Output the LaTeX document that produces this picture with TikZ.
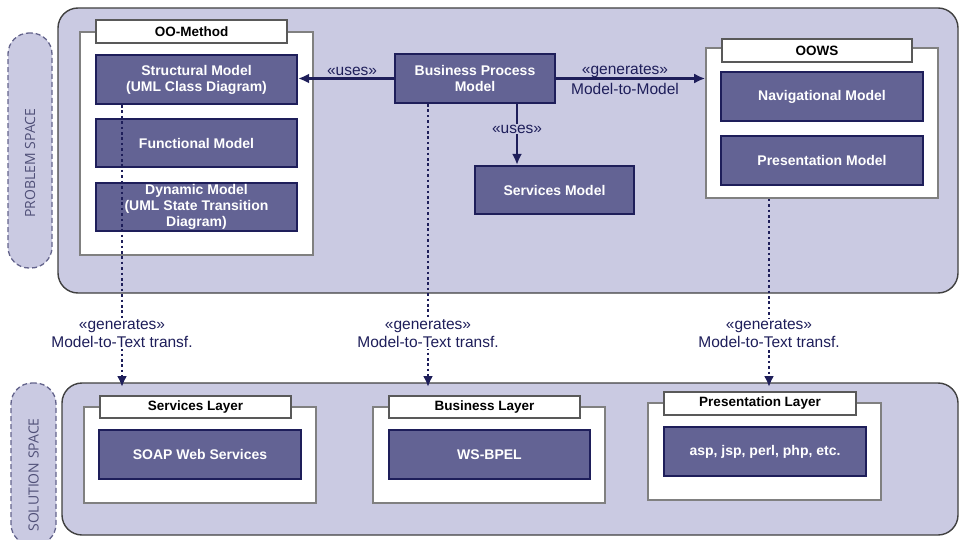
\documentclass[tikz,border=0pt]{standalone}
\usepackage{fontspec}
\setmainfont{Liberation Sans}
\newfontfamily\pillfont{Open Sans}
\usetikzlibrary{arrows.meta,calc}
\definecolor{lav}{RGB}{202,202,226}
\definecolor{boxf}{RGB}{99,99,148}
\definecolor{navy}{RGB}{30,30,90}
\definecolor{pilltxt}{RGB}{80,80,120}
\definecolor{pilldr}{RGB}{100,100,140}
\begin{document}
\begin{tikzpicture}[x=1pt,y=-1pt,
  space/.style={draw=black!75,fill=lav,line width=1.4pt,rounded corners=20pt,inner sep=0,minimum width=#1},
  pill/.style={draw=pilldr,fill=lav,dash pattern=on 5pt off 3pt,line width=1.3pt,rounded corners=21pt,inner sep=0},
  pilllbl/.style={rotate=90,text=pilltxt,font=\pillfont\fontsize{14}{16}\selectfont},
  wbox/.style={draw=black!50,fill=white,line width=1.6pt,inner sep=0},
  tab/.style={draw=black!65,fill=white,line width=1.4pt,inner sep=0,font=\bfseries\fontsize{13.5}{15}\selectfont},
  model/.style={draw=navy,fill=boxf,line width=2.2pt,inner sep=0,text=white,align=center,
     font=\bfseries\fontsize{14}{16}\selectfont},
  lbl/.style={text=navy,align=center,inner sep=1pt,font=\fontsize{15.5}{18}\selectfont},
  arr/.style={draw=navy,line width=2.6pt,-{Latex[length=11pt,width=10pt]}},
  dotarr/.style={draw=navy,line width=2.6pt,dash pattern=on 2.6pt off 2.8pt,-{Latex[length=11pt,width=10pt]}}
]
\useasboundingbox (0,0) rectangle (960,540);
% problem space
\node[space=900pt,minimum height=285pt] (ps) at (508,150.5) {};
\node[pill,minimum width=44pt,minimum height=235pt] (ppill) at (30,150.5) {};
\node[pilllbl] (pst) at (30,163) {PROBLEM SPACE};
% solution space
\node[space=896pt,minimum height=152pt] (sol) at (510,459) {};
\node[pill,minimum width=45pt,minimum height=162pt] (spill) at (33.5,464) {};
\node[pilllbl] (sst) at (33.5,475) {SOLUTION SPACE};

% OO-Method
\node[wbox,minimum width=233pt,minimum height=223pt] (oo) at (196.5,143.5) {};
\node[tab,minimum width=191pt,minimum height=23pt] (ootab) at (191.5,31.5) {OO-Method};
\node[model,minimum width=201pt,minimum height=49pt] (struct) at (196.5,79.5) {Structural Model\\(UML Class Diagram)};
\node[model,minimum width=201pt,minimum height=48pt] (func) at (196.5,143) {Functional Model};
\node[model,minimum width=201pt,minimum height=48pt] (dyn) at (196.5,207) {Dynamic Model\\(UML State Transition\\Diagram)};

% BPM
\node[model,minimum width=160pt,minimum height=49pt] (bpm) at (475,78.5) {Business Process\\Model};
\node[model,minimum width=159pt,minimum height=48pt] (svcm) at (554.5,190) {Services Model};

% OOWS
\node[wbox,minimum width=232pt,minimum height=150pt] (oows) at (822,123) {};
\node[tab,minimum width=190pt,minimum height=23pt] (oowstab) at (817,50.5) {OOWS};
\node[model,minimum width=202pt,minimum height=49pt] (nav) at (822,96.5) {Navigational Model};
\node[model,minimum width=202pt,minimum height=49pt] (pres) at (822,160.5) {Presentation Model};

% layers
\node[wbox,minimum width=232pt,minimum height=96pt] (slbox) at (200,455) {};
\node[tab,minimum width=191pt,minimum height=22pt] (sltab) at (195.5,407) {Services Layer};
\node[model,minimum width=202pt,minimum height=49pt] (soap) at (200,454.5) {SOAP Web Services};

\node[wbox,minimum width=232pt,minimum height=96pt] (blbox) at (489,455) {};
\node[tab,minimum width=191pt,minimum height=22pt] (bltab) at (484.5,407) {Business Layer};
\node[model,minimum width=201pt,minimum height=49pt] (bpel) at (489.5,454.5) {WS-BPEL};

\node[wbox,minimum width=233pt,minimum height=97pt] (plbox) at (764.5,451.5) {};
\node[tab,minimum width=192pt,minimum height=23pt] (pltab) at (760,403.5) {Presentation Layer};
\node[model,minimum width=202pt,minimum height=49pt] (asp) at (765,451.5) {asp, jsp, perl, php, etc.};

% solid arrows
\draw[arr] (bpm.west) -- (bpm.west -| struct.east);
\node[lbl] (uses1) at (352,71) {«uses»};
\draw[arr] (bpm.east) -- (bpm.east -| oows.west);
\node[lbl] (gen0) at (625,71) {«generates»};
\node[lbl] (m2m) at (625,89) {Model-to-Model};
\coordinate (bd) at ([xshift=42pt]bpm.south);
\draw[arr] (bd) -- (bd |- svcm.north);
\node[lbl,fill=lav] (uses2) at (517,129) {«uses»};

% dotted generates
\coordinate (s1) at ([xshift=-74.5pt]struct.south);
\coordinate (e1) at (122,387);
\coordinate (s2) at ([xshift=-47pt]bpm.south);
\coordinate (e2) at (428,387);
\coordinate (s3) at ([xshift=-53pt]oows.south);
\coordinate (e3) at (769,387);
\draw[dotarr] (s1) -- (e1);
\draw[dotarr] (s2) -- (e2);
\draw[dotarr] (s3) -- (e3);
\node[lbl,fill=white] (g1) at (122,334) {«generates»\\Model-to-Text transf.};
\node[lbl,fill=white] (g2) at (428,334) {«generates»\\Model-to-Text transf.};
\node[lbl,fill=white] (g3) at (769,334) {«generates»\\Model-to-Text transf.};
\end{tikzpicture}
\end{document}
